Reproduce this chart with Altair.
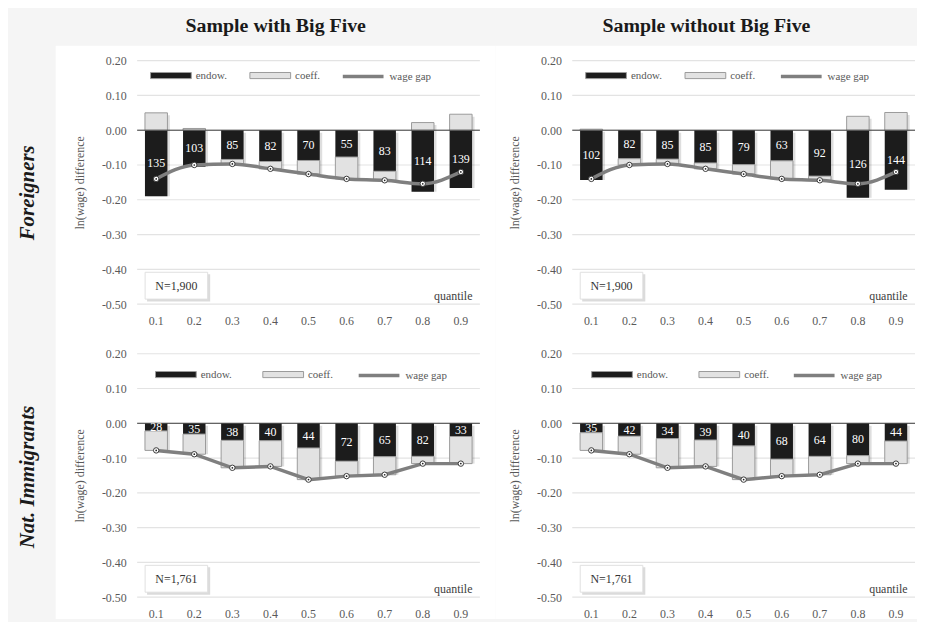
import altair as alt
import pandas as pd

# ---------------- data ----------------
quantiles = ["0.1", "0.2", "0.3", "0.4", "0.5", "0.6", "0.7", "0.8", "0.9"]
bar_components = ["endow.", "coeff."]
line_components = ["wage gap"]
col_titles = ["Sample with Big Five", "Sample without Big Five"]
row_titles = ["Foreigners", "Nat. Immigrants"]
n_labels = ["N=1,900", "N=1,761"]
y_ticks = [0.2, 0.1, 0.0, -0.1, -0.2, -0.3, -0.4, -0.5]
zero_line = [0.0]

# Foreigners, with Big Five
f_bf_endow = [-0.190, -0.105, -0.084, -0.090, -0.087, -0.077, -0.118, -0.177, -0.166]
f_bf_coeff = [0.050, 0.005, -0.013, -0.021, -0.039, -0.063, -0.026, 0.022, 0.046]
f_bf_gap = [-0.140, -0.100, -0.097, -0.111, -0.126, -0.140, -0.144, -0.154, -0.120]
f_bf_share = ["135", "103", "85", "82", "70", "55", "83", "114", "139"]

# Foreigners, without Big Five
f_nb_endow = [-0.143, -0.082, -0.083, -0.094, -0.099, -0.088, -0.132, -0.194, -0.171]
f_nb_coeff = [0.003, -0.018, -0.014, -0.017, -0.027, -0.052, -0.012, 0.040, 0.051]
f_nb_gap = [-0.140, -0.100, -0.097, -0.111, -0.126, -0.140, -0.144, -0.154, -0.120]
f_nb_share = ["102", "82", "85", "85", "79", "63", "92", "126", "144"]

# Naturalised immigrants, with Big Five
n_bf_endow = [-0.022, -0.031, -0.049, -0.050, -0.071, -0.109, -0.096, -0.095, -0.038]
n_bf_coeff = [-0.056, -0.058, -0.079, -0.074, -0.091, -0.043, -0.052, -0.021, -0.078]
n_bf_gap = [-0.078, -0.089, -0.128, -0.124, -0.162, -0.152, -0.148, -0.116, -0.116]
n_bf_share = ["28", "35", "38", "40", "44", "72", "65", "82", "33"]

# Naturalised immigrants, without Big Five
n_nb_endow = [-0.027, -0.037, -0.044, -0.048, -0.065, -0.103, -0.095, -0.093, -0.051]
n_nb_coeff = [-0.051, -0.052, -0.084, -0.076, -0.097, -0.049, -0.053, -0.023, -0.065]
n_nb_gap = [-0.078, -0.089, -0.128, -0.124, -0.162, -0.152, -0.148, -0.116, -0.116]
n_nb_share = ["35", "42", "34", "39", "40", "68", "64", "80", "44"]

# ---------------- styling ----------------
W, H = 345, 245
SERIF = "Liberation Serif"
GREY_TXT = "#595959"
C_ENDOW, C_COEFF, C_GAP = "#1c1c1c", "#e2e2e2", "#7f7f7f"

fill_scale = alt.Scale(domain=bar_components, range=[C_ENDOW, C_COEFF])
stroke_scale = alt.Scale(domain=line_components, range=[C_GAP])
x_scale = alt.Scale(domain=quantiles, paddingInner=0.41, paddingOuter=0.205)
y_scale = alt.Scale(domain=[-0.5, 0.2], nice=False, zero=False)

Y_AXIS = alt.Axis(values=y_ticks, grid=False, domain=False, ticks=False, zindex=1,
                  labelExpr="datum.value < -0.0001 ? '-' + format(-datum.value, '.2f') : format(datum.value, '.2f')",
                  labelFont=SERIF, labelFontSize=12, labelColor=GREY_TXT, labelPadding=11,
                  title="ln(wage) difference", titleFont=SERIF, titleFontSize=12,
                  titleFontWeight="normal", titleColor=GREY_TXT, titlePadding=15)
X_AXIS = alt.Axis(domain=False, ticks=False, grid=False, labelAngle=0, zindex=1,
                  labelFont=SERIF, labelFontSize=12, labelColor=GREY_TXT, labelPadding=12,
                  title="quantile", titleFont=SERIF, titleFontSize=12,
                  titleFontWeight="normal", titleColor="#404040",
                  titleAlign="right", titleBaseline="bottom", titleX=W - 8, titleY=-2)


def X():
    return alt.X("q:N", sort=quantiles, scale=x_scale, axis=X_AXIS)


def Y(field):
    return alt.Y(f"{field}:Q", scale=y_scale, axis=Y_AXIS)


def bar_legend(lx, ly, cpad):
    return alt.Legend(title=None, orient="none", legendX=lx, legendY=ly, direction="horizontal",
                      labelFont=SERIF, labelFontSize=11, labelColor=GREY_TXT, labelOffset=4,
                      columnPadding=cpad, symbolSize=1681, symbolType="M-1,-0.15H1V0.15H-1Z",
                      symbolStrokeColor="#9a9a9a", symbolStrokeWidth=1, symbolOpacity=1)


def line_legend(lx, ly):
    return alt.Legend(title=None, orient="none", legendX=lx, legendY=ly, direction="horizontal",
                      labelFont=SERIF, labelFontSize=11, labelColor=GREY_TXT, labelOffset=4,
                      symbolSize=1681, symbolType="stroke", symbolStrokeWidth=3.5, symbolOpacity=1)


def make_panel(endow, coeff, gap, share, nlabel, rect, leg, smooth, title=None):
    rows = []
    shadow = []
    for q, e, c in zip(quantiles, endow, coeff):
        rows.append({"q": q, "comp": "endow.", "y0": 0.0, "y1": e})
        if c >= 0:
            rows.append({"q": q, "comp": "coeff.", "y0": 0.0, "y1": c})
        else:
            rows.append({"q": q, "comp": "coeff.", "y0": e, "y1": e + c})
        shadow.append({"q": q, "top": max(c, 0.0), "bot": e + min(c, 0.0)})
    bars = pd.DataFrame(rows)
    shad = pd.DataFrame(shadow)
    lab = pd.DataFrame({"q": quantiles, "ly": [e / 2 for e in endow], "t": share})
    line = pd.DataFrame({"q": quantiles, "gap": gap, "series": "wage gap"})
    grid = pd.DataFrame({"v": y_ticks})
    zero = pd.DataFrame({"v": zero_line})
    one = pd.DataFrame({"t": [nlabel]})

    blg = bar_legend(leg[0], leg[1], leg[2])
    llg = line_legend(leg[3], leg[1])

    bg = alt.Chart(one).mark_rect(fill="white").encode(
        x=alt.value(rect[0]), x2=alt.value(rect[1]), y=alt.value(rect[2]), y2=alt.value(rect[3]))
    gridl = alt.Chart(grid).mark_rule(color="#e3e3e3", strokeWidth=1.2).encode(y=Y("v"))
    shadows = alt.Chart(shad).mark_bar(color="#000000", opacity=0.13, xOffset=2.5, yOffset=2.5).encode(
        x=X(), y=Y("top"), y2="bot:Q")
    endow_bars = alt.Chart(bars[bars.comp == "endow."]).mark_bar(strokeWidth=0).encode(
        x=X(), y=Y("y0"), y2="y1:Q",
        fill=alt.Fill("comp:N", scale=fill_scale, legend=blg))
    coeff_bars = alt.Chart(bars[bars.comp == "coeff."]).mark_bar(stroke="#9a9a9a", strokeWidth=1).encode(
        x=X(), y=Y("y0"), y2="y1:Q",
        fill=alt.Fill("comp:N", scale=fill_scale, legend=blg))
    zerol = alt.Chart(zero).mark_rule(color="#404040", strokeWidth=1).encode(y=Y("v"))
    labels = alt.Chart(lab).mark_text(color="white", font=SERIF, fontSize=12, baseline="middle").encode(
        x=X(), y=Y("ly"), text="t:N")
    gap_line = alt.Chart(line).mark_line(strokeWidth=3.5, interpolate="monotone" if smooth else "linear").encode(
        x=X(), y=Y("gap"),
        stroke=alt.Stroke("series:N", scale=stroke_scale, legend=llg))
    pts = alt.Chart(line).mark_point(filled=True, fill="white", stroke="#3a3a3a", strokeWidth=1,
                                     size=30, opacity=1).encode(x=X(), y=Y("gap"))
    dots = alt.Chart(line).mark_point(filled=True, color="#222222", size=3, opacity=1).encode(
        x=X(), y=Y("gap"))
    nshadow = alt.Chart(one).mark_rect(fill="#bdbdbd", opacity=0.55).encode(
        x=alt.value(10), x2=alt.value(73.5), y=alt.value(215), y2=alt.value(242.5))
    nbox = alt.Chart(one).mark_rect(fill="white", stroke="#e0e0e0", strokeWidth=1).encode(
        x=alt.value(8), x2=alt.value(71), y=alt.value(213), y2=alt.value(240))
    ntext = alt.Chart(one).mark_text(font=SERIF, fontSize=12, color="#333333", baseline="middle").encode(
        x=alt.value(39.5), y=alt.value(227), text="t:N")

    props = dict(width=W, height=H)
    if title is not None:
        props["title"] = alt.TitleParams(title, anchor="middle", frame="bounds", offset=10,
                                         font=SERIF, fontSize=20, fontWeight="bold", color="#1a1a1a")
    return alt.layer(bg, gridl, shadows, endow_bars, coeff_bars, zerol, gap_line, pts, dots, labels,
                     nshadow, nbox, ntext).properties(**props)


p11 = make_panel(f_bf_endow, f_bf_coeff, f_bf_gap, f_bf_share, n_labels[0],
                 (-82, W + 16, -15, H + 24), (13, -6.5, 20, 205), True, col_titles[0])
p12 = make_panel(f_nb_endow, f_nb_coeff, f_nb_gap, f_nb_share, n_labels[0],
                 (-77, W + 2, -15, H + 24), (13, -6.5, 20, 208), True, col_titles[1])
p21 = make_panel(n_bf_endow, n_bf_coeff, n_bf_gap, n_bf_share, n_labels[1],
                 (-82, W + 16, -26, H + 22), (18, -0.5, 28, 221), False)
p22 = make_panel(n_nb_endow, n_nb_coeff, n_nb_gap, n_nb_share, n_labels[1],
                 (-77, W + 2, -26, H + 22), (19, -0.5, 28, 221), False)


def row_title(t, dx):
    return alt.TitleParams(t, orient="left", anchor="middle", offset=18, dx=dx, font=SERIF, fontSize=21,
                           fontWeight="bold", fontStyle="italic", color="#1a1a1a")


def indep(c):
    return c.resolve_scale(fill="independent", stroke="independent") \
            .resolve_legend(fill="independent", stroke="independent")


row1 = indep(alt.hconcat(p11, p12, spacing=0, title=row_title(row_titles[0], -21)))
row2 = indep(alt.hconcat(p21, p22, spacing=0, title=row_title(row_titles[1], -3)))

chart = indep(alt.vconcat(row1, row2, spacing=0)) \
    .properties(background="#f5f5f5", padding={"left": 9, "top": 6, "right": 0, "bottom": 0}) \
    .configure_view(stroke=None)

chart.save("out.html", embed_options={"renderer": "svg", "actions": False})
